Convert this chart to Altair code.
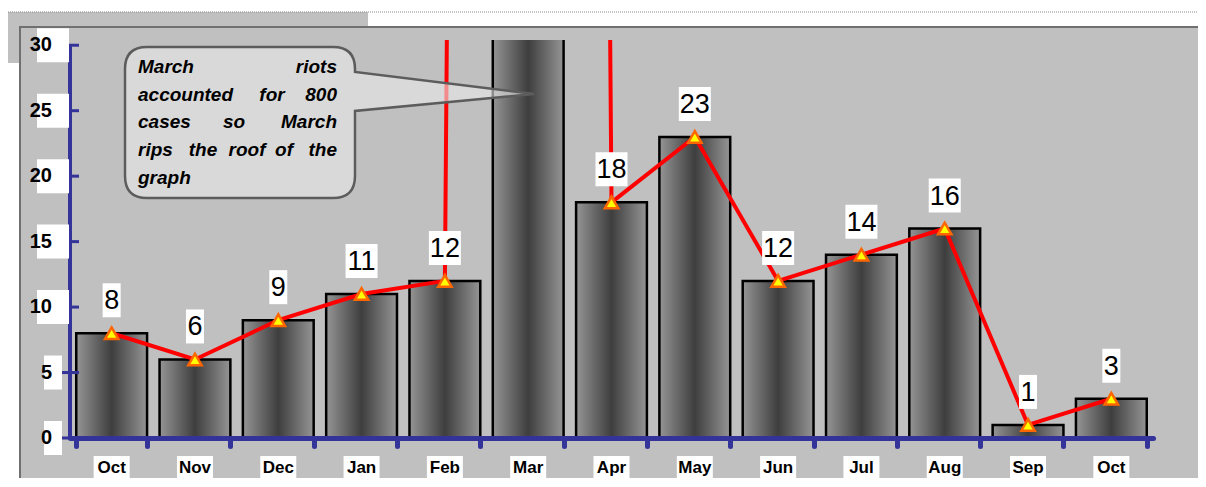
import altair as alt
import pandas as pd

# ---- data ----
months = ["Oct", "Nov", "Dec", "Jan", "Feb", "Mar", "Apr", "May", "Jun", "Jul", "Aug", "Sep", "Oct"]
cases = [8, 6, 9, 11, 12, 800, 18, 23, 12, 14, 16, 1, 3]
y_ticks = [0, 5, 10, 15, 20, 25, 30]
callout_lines = [
    ["March", "riots"],
    ["accounted", "for", "800"],
    ["cases", "so", "March"],
    ["rips", "the", "roof", "of", "the"],
    ["graph"],
]

# ---- annotation layout (pixel positions inside the plot area) ----
callout_word_x = [
    [68, 267],
    [68, 202, 267],
    [68, 164, 267],
    [68, 133, 177, 214, 267],
    [68],
]
callout_word_align = [
    ["left", "right"],
    ["left", "center", "right"],
    ["left", "center", "right"],
    ["left", "center", "center", "center", "right"],
    ["left"],
]
callout_line_y = [27, 55, 82, 110, 138]

BLUE = "#333399"
FONT = "Liberation Sans"
W, H = 1083, 398
Y_TOP = max(y_ticks)

df = pd.DataFrame({
    "key": [f"{i:02d}" for i in range(1, len(months) + 1)],
    "month": months,
    "cases": cases,
})
df["nd"] = df["cases"].astype(str).str.len().astype(str)

ticks_df = pd.DataFrame({"v": y_ticks, "lab": [str(t) for t in y_ticks]})
ticks_df["nd"] = ticks_df["lab"].str.len().astype(str)
axis_df = pd.DataFrame({"lo": [min(y_ticks)], "hi": [max(y_ticks)]})

words = []
for li, (ws, xs, als) in enumerate(zip(callout_lines, callout_word_x, callout_word_align)):
    for w, x, a in zip(ws, xs, als):
        words.append({"word": w, "px": x, "py": callout_line_y[li], "al": a})
words_df = pd.DataFrame(words)

one = pd.DataFrame({"a": [0]})

yscale = alt.Scale(domain=[0, 30.4], nice=False, zero=True)

x_enc = alt.X(
    "key:O",
    sort=None,
    scale=alt.Scale(paddingInner=0.15, paddingOuter=0.075),
    axis=alt.Axis(
        title=None, labels=False, grid=False,
        domainColor=BLUE, domainWidth=5, domainCap="round",
        tickColor=BLUE, tickWidth=5, tickSize=8, tickCap="round",
        tickBand="extent", zindex=1,
    ),
)

# ---- background ----
bg_corner = alt.Chart(one).mark_rect(color="#C0C0C0").encode(
    x=alt.value(-62), x2=alt.value(298), y=alt.value(-28), y2=alt.value(23)
)
dotted = alt.Chart(one).mark_rule(color="#8a8a8a", strokeDash=[1, 1], strokeWidth=1).encode(
    x=alt.value(-62), x2=alt.value(1140), y=alt.value(-28)
)
bg_main = alt.Chart(one).mark_rect(color="#C0C0C0", stroke="#707070", strokeWidth=2).encode(
    x=alt.value(-50), x2=alt.value(1150), y=alt.value(-13), y2=alt.value(440)
)

base = alt.Chart(df)
in_range = base.transform_filter(alt.datum.cases <= Y_TOP)

bar_grad = alt.LinearGradient(
    gradient="linear",
    stops=[
        alt.GradientStop(color="#959595", offset=0),
        alt.GradientStop(color="#3e3e3e", offset=0.5),
        alt.GradientStop(color="#959595", offset=1),
    ],
    x1=0, x2=1, y1=0, y2=0,
)

bars = base.mark_bar(color=bar_grad, stroke="black", strokeWidth=2.5, clip=True).encode(
    x=x_enc, y=alt.Y("cases:Q", scale=yscale, axis=None)
)
line = base.mark_line(color="#FF0000", strokeWidth=4, clip=True).encode(
    x=x_enc, y=alt.Y("cases:Q", scale=yscale, axis=None)
)
tri = in_range.mark_point(
    shape="triangle-up", size=180, filled=True, fill="#FFFF00", stroke="#FF6600",
    strokeWidth=2.5, opacity=1
).encode(x=x_enc, y=alt.Y("cases:Q", scale=yscale, axis=None))

lab_boxes = in_range.mark_point(size=4, filled=True, color="white", opacity=1, yOffset=-33).encode(
    x=x_enc,
    y=alt.Y("cases:Q", scale=yscale, axis=None),
    shape=alt.Shape(
        "nd:N",
        scale=alt.Scale(
            domain=["1", "2"],
            range=[
                "M-9,-17L9,-17L9,17L-9,17Z",
                "M-16,-17L16,-17L16,17L-16,17Z",
            ],
        ),
        legend=None,
    ),
)
lab_text = in_range.mark_text(
    font=FONT, fontSize=27, color="black", yOffset=-32, baseline="middle"
).encode(x=x_enc, y=alt.Y("cases:Q", scale=yscale, axis=None), text="cases:Q")

# ---- y axis drawn by hand ----
yaxis_line = alt.Chart(axis_df).mark_rule(color=BLUE, strokeWidth=4).encode(
    x=alt.value(0), y=alt.Y("lo:Q", scale=yscale, axis=None), y2="hi:Q"
)
yaxis_ticks = alt.Chart(ticks_df).mark_rule(color=BLUE, strokeWidth=3).encode(
    x=alt.value(-9), x2=alt.value(9), y=alt.Y("v:Q", scale=yscale, axis=None)
)
ylab_boxes = alt.Chart(ticks_df).mark_point(size=4, filled=True, color="white", opacity=1).encode(
    x=alt.value(-17),
    y=alt.Y("v:Q", scale=yscale, axis=None),
    shape=alt.Shape(
        "nd:N",
        scale=alt.Scale(domain=["1", "2"], range=["M-14,-11L0,-11L0,11L-14,11Z", "M-27,-11L0,-11L0,11L-27,11Z"]),
        legend=None,
    ),
)
ylab_text = alt.Chart(ticks_df).mark_text(
    font=FONT, fontSize=20, fontWeight="bold", color="black", align="right", baseline="middle"
).encode(x=alt.value(-18), y=alt.Y("v:Q", scale=yscale, axis=None), text="lab:N")

# ---- x labels ----
xlab_boxes = base.mark_point(
    size=4, filled=True, color="white", opacity=1, shape="M-18,-11L18,-11L18,11L-18,11Z"
).encode(x=x_enc, y=alt.value(427))
xlab_text = base.mark_text(
    font=FONT, fontSize=17, fontWeight="bold", color="black", baseline="middle"
).encode(x=x_enc, y=alt.value(428), text="month:N")

# ---- callout ----
callout_path = (
    "M77,7L263,7Q285,7 285,29L285,32L464,54L285,71L285,136Q285,158 263,158"
    "L77,158Q55,158 55,136L55,29Q55,7 77,7Z"
)
callout = alt.Chart(one).mark_point(
    shape=callout_path, size=4, filled=True, fill="#EAEAEA", fillOpacity=0.6,
    stroke="#5c5c5c", strokeWidth=2.5, opacity=1
).encode(x=alt.value(0), y=alt.value(0))

word_layers = []
for a in ["left", "center", "right"]:
    word_layers.append(
        alt.Chart(words_df).transform_filter(alt.datum.al == a).mark_text(
            font=FONT, fontSize=19, fontWeight="bold", fontStyle="italic", color="black",
            align=a, baseline="middle"
        ).encode(x=alt.X("px:Q", scale=None), y=alt.Y("py:Q", scale=None), text="word:N")
    )

chart = alt.layer(
    bg_corner, dotted, bg_main,
    bars, line, tri, lab_boxes, lab_text,
    yaxis_line, yaxis_ticks, ylab_boxes, ylab_text,
    xlab_boxes, xlab_text,
    callout, *word_layers,
).properties(
    width=W, height=H,
    autosize=alt.AutoSizeParams(type="none"),
    padding={"left": 62, "top": 32, "right": 45, "bottom": 40},
    background="white",
).configure_view(strokeWidth=0)

chart.save("out.html", embed_options={"renderer": "svg", "actions": False})
